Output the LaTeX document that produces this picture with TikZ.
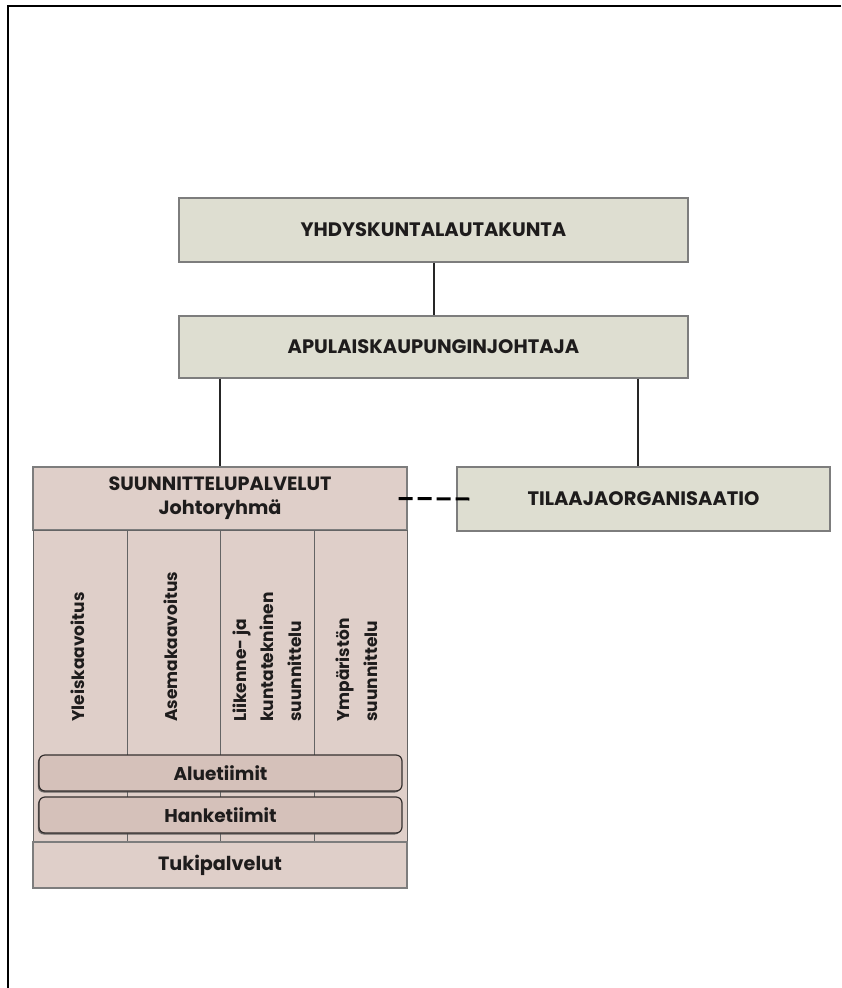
\documentclass[tikz,border=0pt]{standalone}
\usepackage{fontspec}
\setmainfont{Poppins}
\usetikzlibrary{shadows}
\definecolor{boxg}{RGB}{222,222,209}
\definecolor{boxp}{RGB}{223,207,201}
\definecolor{boxd}{RGB}{213,193,186}
\definecolor{edge}{RGB}{125,125,125}
\definecolor{tdark}{RGB}{30,28,28}
\begin{document}
\begin{tikzpicture}[x=1pt,y=-1pt,
  gbox/.style={draw=edge,line width=1.2pt,fill=boxg,inner sep=0pt,text=tdark,font=\fontsize{19.5}{22}\selectfont\bfseries},
  pbox/.style={draw=edge,line width=1.2pt,fill=boxp,inner sep=0pt,text=tdark,font=\fontsize{19.2}{24}\selectfont\bfseries,align=center},
  colbox/.style={draw=edge!80!black,line width=1pt,fill=boxp,inner sep=0pt,minimum width=93.5pt,minimum height=312pt},
  coltext/.style={rotate=90,anchor=west,inner sep=0pt,align=left,text=tdark,font=\fontsize{17}{27.5}\selectfont\bfseries},
  teambox/.style={draw=black!75!boxd,line width=1.2pt,fill=boxd,rounded corners=6pt,inner sep=0pt,minimum width=363pt,minimum height=36pt,text=tdark,font=\fontsize{18.5}{22}\selectfont\bfseries,
    drop shadow={shadow xshift=-1.2pt,shadow yshift=-1.5pt,fill=black!70,opacity=0.8}},
  conn/.style={draw=black!85,line width=2pt}]
\useasboundingbox (0,0) rectangle (841,988);
\fill[white] (0,0) rectangle (841,988);
% frame
\coordinate (ftl) at (7.7,5.7);
\coordinate (ftr) at (841,5.7);
\coordinate (fbl) at (7.7,988);
\draw[line width=2.2pt] (ftr) -- (ftl) -- (fbl);

% top boxes
\node[gbox,minimum width=509pt,minimum height=64pt] (yk) at (433.5,230) {YHDYSKUNTALAUTAKUNTA};
\node[gbox,minimum width=509pt,minimum height=62pt] (apu) at (433.5,347) {APULAISKAUPUNGINJOHTAJA};
\node[gbox,minimum width=373pt,minimum height=64pt] (til) at (643.5,499) {TILAAJAORGANISAATIO};

% suunnittelupalvelut block
\node[pbox,minimum width=374pt,minimum height=63pt] (hdr) at (220,498.5) {SUUNNITTELUPALVELUT\\Johtoryhmä};
\node[colbox] (c1) at (80.25,686) {};
\node[colbox] (c2) at (173.75,686) {};
\node[colbox] (c3) at (267.25,686) {};
\node[colbox] (c4) at (360.75,686) {};
\node[pbox,minimum width=374pt,minimum height=46pt] (tuki) at (220,865) {Tukipalvelut};

\node[coltext] (t1) at (78,722) {Yleiskaavoitus};
\node[coltext] (t2) at (171,722) {Asemakaavoitus};
\node[coltext] (t3) at (267,722) {Liikenne- ja\\kuntatekninen\\suunnittelu};
\node[coltext] (t4) at (357,722) {Ympäristön\\suunnittelu};

\node[teambox] (alue) at (220.5,773) {Aluetiimit};
\node[teambox] (hanke) at (220.5,815) {Hanketiimit};

% connectors
\draw[conn] (yk) -- (apu);
\draw[conn] (apu.south -| hdr) -- (hdr.north);
\coordinate (tilt) at ([xshift=-5.5pt]til.north);
\draw[conn] (apu.south -| tilt) -- (tilt);
\coordinate (ds) at ([xshift=-9pt]hdr.east);
\coordinate (de) at ([xshift=13pt]til.west);
\draw[black,line width=3pt,dash pattern=on 14pt off 5pt] (ds) -- (de);
\end{tikzpicture}
\end{document}
